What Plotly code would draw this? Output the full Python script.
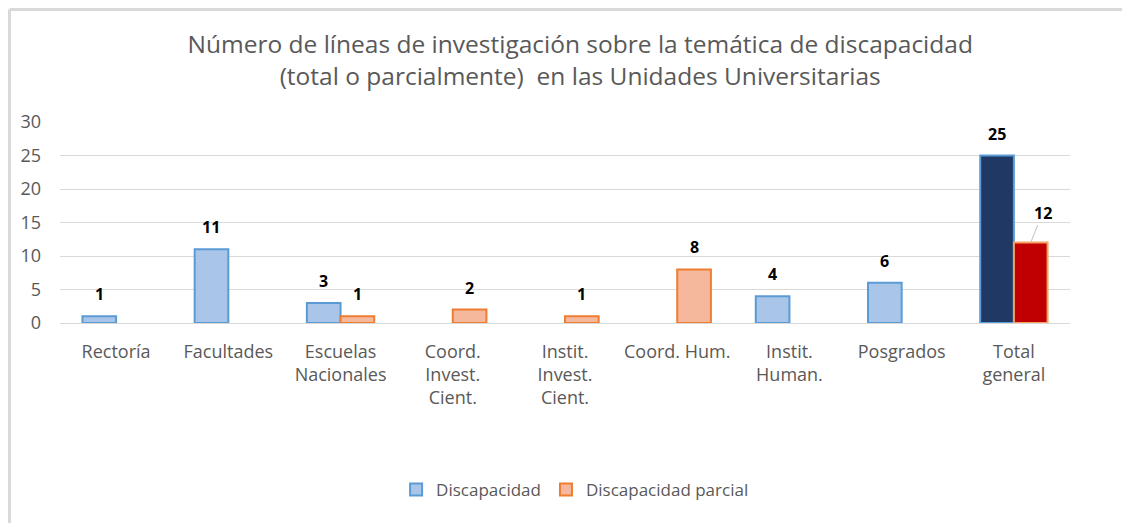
import plotly.graph_objects as go

# Unidades universitarias (eje X) y número de líneas de investigación
categorias = ['Rectoría', 'Facultades', 'Escuelas<br>Nacionales', 'Coord.<br>Invest.<br>Cient.',
              'Instit.<br>Invest.<br>Cient.', 'Coord. Hum.', 'Instit.<br>Human.', 'Posgrados',
              'Total<br>general']
discapacidad = [1, 11, 3, None, None, None, 4, 6, 25]
discapacidad_parcial = [None, None, 1, 2, 1, 8, None, None, 12]

titulo = ('Número de líneas de investigación sobre la temática de discapacidad<br>'
          '(total o parcialmente)  en las Unidades Universitarias')

GRIS = '#595959'
FUENTE = 'Open Sans, sans-serif'
BARGAP = 0.4
PLOT_W = 1010

# Colores: las barras del total van en tonos oscuros
azul_fill = ['#A9C5E8'] * 8 + ['#1F3864']
azul_line = ['#5B9BD5'] * 8 + ['#5B9BD5']
naranja_fill = ['#F6B89C'] * 8 + ['#C00000']
naranja_line = ['#ED7D31'] * 8 + ['#F4A460']

fig = go.Figure()
fig.add_trace(go.Bar(
    x=categorias, y=discapacidad, name='Discapacidad',
    marker=dict(color=azul_fill, line=dict(color=azul_line, width=2)),
))
fig.add_trace(go.Bar(
    x=categorias, y=discapacidad_parcial, name='Discapacidad parcial',
    marker=dict(color=naranja_fill, line=dict(color=naranja_line, width=2)),
))

# Etiquetas de datos (desplazadas sobre cada barra del grupo)
desplaz = PLOT_W / len(categorias) * (1 - BARGAP) / 4
for serie, signo in ((discapacidad, -1), (discapacidad_parcial, 1)):
    for cat, val in zip(categorias, serie):
        if val is None:
            continue
        if cat.startswith('Total') and signo == 1:
            fig.add_annotation(x=cat, y=val, text=f'<b>{val}</b>', xshift=signo * desplaz,
                               showarrow=True, arrowhead=0, arrowwidth=1, arrowcolor='#BFBFBF',
                               ax=12, ay=-30, standoff=0,
                               font=dict(size=16, color='black', family=FUENTE))
        else:
            fig.add_annotation(x=cat, y=val, text=f'<b>{val}</b>', xshift=signo * desplaz,
                               yshift=22, showarrow=False, yanchor='middle',
                               font=dict(size=16, color='black', family=FUENTE))

# Marco gris claro (borde superior e izquierdo del gráfico)
fig.add_shape(type='line', xref='paper', yref='paper', x0=-0.05, x1=1.1, y0=1.56, y1=1.56,
              line=dict(color='#D9D9D9', width=3))
fig.add_shape(type='line', xref='paper', yref='paper', x0=-0.05, x1=-0.05, y0=1.56, y1=-1.0,
              line=dict(color='#D9D9D9', width=3))

fig.update_layout(
    width=1122, height=515,
    margin=dict(l=52, r=60, t=114, b=200),
    paper_bgcolor='white', plot_bgcolor='white',
    barmode='group', bargap=BARGAP, bargroupgap=0,
    title=dict(text=titulo, x=0.51, xanchor='center', y=0.912, yanchor='middle',
               font=dict(size=24.5, color=GRIS, family=FUENTE)),
    font=dict(family=FUENTE, color=GRIS, size=16),
    xaxis=dict(showgrid=False, showline=True, linecolor='#D9D9D9', linewidth=1, ticks='',
               ticklabelstandoff=12, tickfont=dict(size=18, color=GRIS)),
    yaxis=dict(range=[0, 30], dtick=5, showgrid=True, gridcolor='#D9D9D9', gridwidth=1,
               zeroline=False, ticks='', ticklabelstandoff=18,
               tickfont=dict(size=18, color=GRIS)),
    legend=dict(orientation='h', x=0.51, xanchor='center', y=-0.83, yanchor='middle',
                font=dict(size=17, color=GRIS), itemwidth=30),
    showlegend=True,
)

fig.write_html('out.html')
